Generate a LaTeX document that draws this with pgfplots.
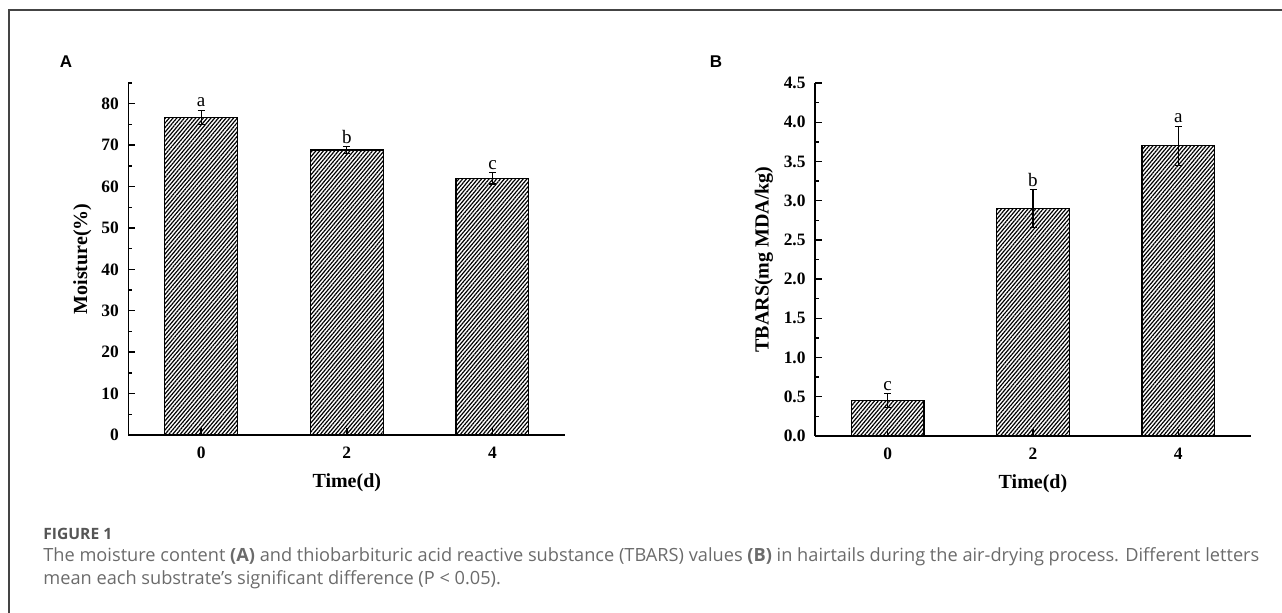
\documentclass[border=0pt]{standalone}
\usepackage{pgfplots}
\pgfplotsset{compat=1.18}
\usepackage{fontspec}
\setmainfont{Liberation Serif}
\newfontfamily\arialfont{Liberation Sans}
\newfontfamily\capfont{Open Sans}
\usetikzlibrary{patterns.meta}
\definecolor{capgray}{HTML}{6B6B6B}
\definecolor{figgray}{HTML}{555555}
\definecolor{framegray}{HTML}{444444}

\pgfplotsset{
  panel/.style={
    scale only axis,
    anchor=south west,
    xmin=-1, xmax=5, ymin=0,
    axis lines=left,
    axis line style={-, line width=0.8pt, black},
    xtick={0,2,4},
    tick align=inside,
    major tick length=3.5pt,
    minor tick length=1.8pt,
    every tick/.style={line width=0.7pt, black},
    clip=false,
    /pgf/number format/assume math mode=true,
    ticklabel style={font=\bfseries\fontsize{8.7}{8.7}\selectfont},
    xticklabel style={yshift=-2.5pt},
    yticklabel style={xshift=-1.2pt},
    label style={font=\bfseries\fontsize{10}{10}\selectfont},
    xlabel style={at={(axis description cs:0.5,0)}, anchor=center, yshift=-24pt},
  },
  barstyle/.style={
    ybar, bar width=1, draw=black, line width=0.6pt,
    pattern={Lines[angle=50,distance=1.45pt,line width=0.6pt]}, pattern color=black,
    error bars/.cd, y dir=both, y explicit,
    error bar style={line width=0.6pt, black},
    error mark options={rotate=90, line width=0.6pt, black, mark size=1.75pt},
  },
  letterstyle/.style={
    draw=none, mark=none,
    nodes near coords, point meta=explicit symbolic,
    every node near coord/.style={font=\fontsize{9.5}{9.5}\selectfont, anchor=south, inner sep=1pt},
  },
}

\pgfplotstableread{
x y e t l
0 76.7 1.7 78.6 a
2 68.8 0.8 69.8 b
4 62.0 1.4 63.6 c
}\moist

\pgfplotstableread{
x y e t l
0 0.45 0.09 0.55 c
2 2.90 0.24 3.15 b
4 3.70 0.25 3.96 a
}\tbars

\begin{document}
\begin{tikzpicture}
\useasboundingbox (0pt,0pt) rectangle (641pt,-306.5pt);
% frame
\draw[framegray, line width=0.6pt] (4.5pt,-306.5pt) -- (4.5pt,-5pt) -- (641pt,-5pt);

% Panel A
\begin{axis}[panel,
  at={(64.15pt,-217.5pt)},
  width=218.5pt, height=176pt,
  ymax=85,
  ytick={0,10,...,80},
  minor ytick={5,15,25,35,45,55,65,75,85},
  xlabel={Time(d)},
  ylabel={Moisture(\%)},
  ylabel style={at={(axis description cs:-0.105,0.5)}, anchor=center},
]
\addplot[barstyle] table[x=x, y=y, y error=e] {\moist};
\addplot[letterstyle] table[x=x, y=t, meta=l] {\moist};
\end{axis}

% Panel B
\begin{axis}[panel,
  at={(407.5pt,-218pt)},
  width=218pt, height=176.5pt,
  ymax=4.5,
  ytick={0,0.5,1,1.5,2,2.5,3,3.5,4,4.5},
  minor ytick={0.25,0.75,1.25,1.75,2.25,2.75,3.25,3.75,4.25},
  yticklabel style={/pgf/number format/.cd, fixed, fixed zerofill, precision=1},
  xlabel={Time(d)},
  ylabel={TBARS(mg MDA/kg)},
  ylabel style={at={(axis description cs:-0.117,0.5)}, anchor=center},
]
\addplot[barstyle] table[x=x, y=y, y error=e] {\tbars};
\addplot[letterstyle] table[x=x, y=t, meta=l] {\tbars};
\end{axis}

% panel letters
\node[font=\arialfont\bfseries\fontsize{8.5}{8.5}\selectfont, anchor=center] at (33pt,-31pt) {A};
\node[font=\arialfont\bfseries\fontsize{8.5}{8.5}\selectfont, anchor=center] at (358pt,-31pt) {B};

% caption
\node[font=\capfont\bfseries\fontsize{7.8}{7.8}\selectfont, text=figgray, anchor=base west, inner sep=0pt] at (21.5pt,-270pt) {FIGURE 1};
\node[font=\capfont\fontsize{9.1}{9.1}\selectfont, text=capgray, anchor=base west, inner sep=0pt] at (21.5pt,-281pt) {The moisture content \textbf{(A)} and thiobarbituric acid reactive substance (TBARS) values \textbf{(B)} in hairtails during the air-drying process. Different letters};
\node[font=\capfont\fontsize{9.1}{9.1}\selectfont, text=capgray, anchor=base west, inner sep=0pt] at (21.5pt,-292.5pt) {mean each substrate’s significant difference (P < 0.05).};
\end{tikzpicture}
\end{document}
